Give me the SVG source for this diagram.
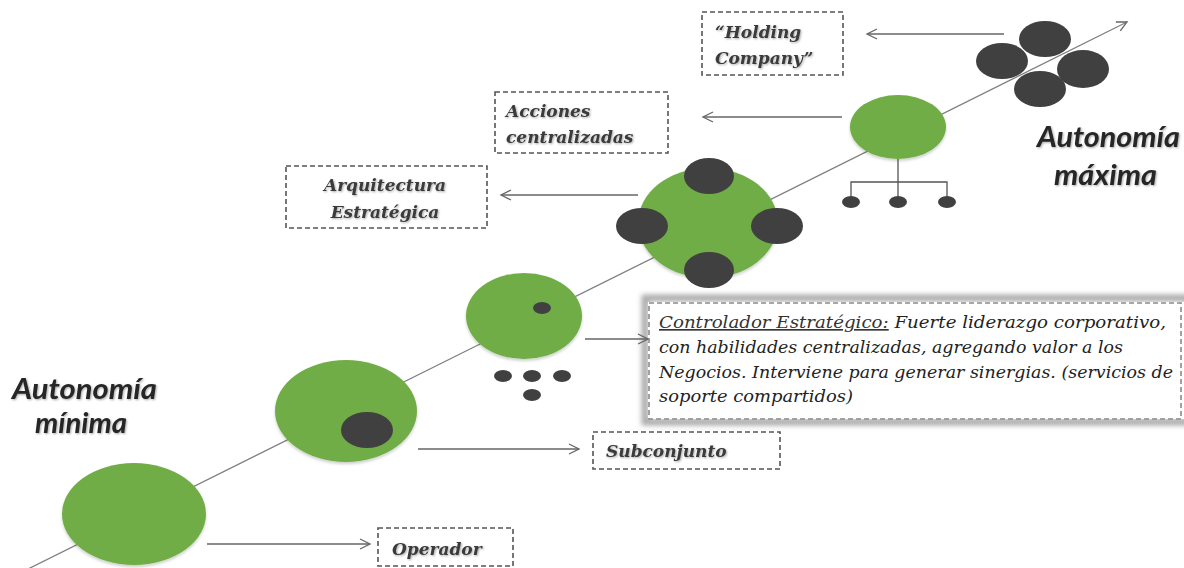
<svg xmlns="http://www.w3.org/2000/svg" width="1184" height="568" viewBox="0 0 1184 568">
  <defs>
    <marker id="open-arrow" markerWidth="14" markerHeight="14" refX="11" refY="6" orient="auto" markerUnits="userSpaceOnUse">
      <path d="M1,1 L11,6 L1,11" fill="none" stroke="#666" stroke-width="1.3"/>
    </marker>
    <filter id="soft-shadow" x="-10%" y="-20%" width="120%" height="140%">
      <feGaussianBlur in="SourceAlpha" stdDeviation="1.2"/>
      <feOffset dx="0.8" dy="0.8" result="b"/>
      <feComponentTransfer><feFuncA type="linear" slope="0.35"/></feComponentTransfer>
      <feMerge><feMergeNode/><feMergeNode in="SourceGraphic"/></feMerge>
    </filter>
    <filter id="glow" x="-5%" y="-20%" width="110%" height="140%">
      <feGaussianBlur stdDeviation="2.5"/>
    </filter>
    <filter id="ellipse-shadow" x="-10%" y="-10%" width="120%" height="130%">
      <feGaussianBlur in="SourceAlpha" stdDeviation="1.5"/>
      <feOffset dx="0" dy="1.5"/>
      <feComponentTransfer><feFuncA type="linear" slope="0.2"/></feComponentTransfer>
      <feMerge><feMergeNode/><feMergeNode in="SourceGraphic"/></feMerge>
    </filter>
  </defs>
  <style>
    .green { fill: #70ad47; }
    .dark { fill: #404040; }
    .axis { stroke: #808080; stroke-width: 1.3; fill: none; }
    .conn { stroke: #666; stroke-width: 1.3; fill: none; }
    .tree { stroke: #555; stroke-width: 1.3; fill: none; }
    .dash { fill: #fff; stroke: #555; stroke-width: 1.6; stroke-dasharray: 5 3; }
    .label { font-family: "DejaVu Serif", "Liberation Serif", serif; font-style: italic; font-weight: bold; font-size: 17px; fill: #3a3a3a; }
    .body { font-family: "DejaVu Serif", "Liberation Serif", serif; font-style: italic; font-size: 16.5px; fill: #222; }
    .autonomy { font-family: Lato, "Liberation Sans", sans-serif; font-style: italic; font-weight: bold; font-size: 28px; fill: #262626; }
  </style>

  <rect width="1184" height="568" fill="#fff"/>

  <!-- Holding company: four separate dark units -->
  <g id="node-holding-shapes">
    <ellipse class="dark" cx="1045" cy="39" rx="26" ry="18"/>
    <ellipse class="dark" cx="1002" cy="61" rx="26" ry="18"/>
    <ellipse class="dark" cx="1083" cy="69" rx="26" ry="19"/>
    <ellipse class="dark" cx="1040" cy="89" rx="26" ry="18"/>
  </g>

  <!-- Autonomy axis -->
  <g id="axis">
    <line class="axis" x1="22" y1="572" x2="1127" y2="22" marker-end="url(#open-arrow)"/>
  </g>

  <!-- Operador -->
  <g id="node-operador">
    <ellipse class="green" cx="134" cy="514" rx="72" ry="51" filter="url(#ellipse-shadow)"/>
    <rect class="dash" x="378" y="528" width="135" height="38"/>
    <text class="label" x="392" y="555" filter="url(#soft-shadow)">Operador</text>
  </g>

  <!-- Subconjunto -->
  <g id="node-subconjunto">
    <ellipse class="green" cx="346" cy="411" rx="71" ry="51" filter="url(#ellipse-shadow)"/>
    <ellipse class="dark" cx="367" cy="430" rx="26" ry="18"/>
    <rect class="dash" x="593" y="432" width="187" height="37"/>
    <text class="label" x="606" y="457" filter="url(#soft-shadow)">Subconjunto</text>
  </g>

  <!-- Controlador estrategico -->
  <g id="node-controlador">
    <ellipse class="green" cx="524" cy="316" rx="58" ry="43" filter="url(#ellipse-shadow)"/>
    <ellipse class="dark" cx="542" cy="308" rx="9" ry="6"/>
    <ellipse class="dark" cx="503" cy="376" rx="9" ry="6"/>
    <ellipse class="dark" cx="532" cy="376" rx="9" ry="6"/>
    <ellipse class="dark" cx="562" cy="376" rx="9" ry="6"/>
    <ellipse class="dark" cx="532" cy="395" rx="9" ry="6"/>
    <rect x="645" y="298" width="545" height="124" fill="none" stroke="#ababab" stroke-width="7" filter="url(#glow)"/>
    <rect x="648" y="302" width="540" height="117" fill="#fff"/>
    <rect x="649" y="303" width="532" height="116" fill="none" stroke="#8a8a8a" stroke-width="1.6" stroke-dasharray="5 3"/>
    <text class="body" x="659" y="328" textLength="507" lengthAdjust="spacingAndGlyphs"><tspan text-decoration="underline" fill="#333">Controlador Estratégico:</tspan> Fuerte liderazgo corporativo,</text>
    <text class="body" x="659" y="353" textLength="464" lengthAdjust="spacingAndGlyphs">con habilidades centralizadas, agregando valor a los</text>
    <text class="body" x="659" y="378" textLength="514" lengthAdjust="spacingAndGlyphs">Negocios. Interviene para generar sinergias. (servicios de</text>
    <text class="body" x="659" y="402" textLength="194" lengthAdjust="spacingAndGlyphs">soporte compartidos)</text>
  </g>

  <!-- Arquitectura estrategica -->
  <g id="node-arquitectura">
    <ellipse class="green" cx="708" cy="223" rx="70" ry="55" filter="url(#ellipse-shadow)"/>
    <ellipse class="dark" cx="709" cy="176" rx="25" ry="18"/>
    <ellipse class="dark" cx="642" cy="226" rx="26" ry="18"/>
    <ellipse class="dark" cx="777" cy="226" rx="26" ry="18"/>
    <ellipse class="dark" cx="709" cy="270" rx="25" ry="18"/>
    <rect class="dash" x="286" y="166" width="201" height="62"/>
    <text class="label" x="385" y="191" text-anchor="middle" filter="url(#soft-shadow)">Arquitectura</text>
    <text class="label" x="385" y="218" text-anchor="middle" filter="url(#soft-shadow)">Estratégica</text>
  </g>

  <!-- Acciones centralizadas -->
  <g id="node-acciones">
    <ellipse class="green" cx="898" cy="127" rx="48" ry="32" filter="url(#ellipse-shadow)"/>
    <path class="tree" d="M898,159 V201 M851,201 V182 H947 V201"/>
    <ellipse class="dark" cx="851" cy="202" rx="9" ry="6"/>
    <ellipse class="dark" cx="898" cy="202" rx="9" ry="6"/>
    <ellipse class="dark" cx="947" cy="202" rx="9" ry="6"/>
    <rect class="dash" x="495" y="92" width="173" height="61"/>
    <text class="label" x="506" y="117" filter="url(#soft-shadow)">Acciones</text>
    <text class="label" x="506" y="143" filter="url(#soft-shadow)">centralizadas</text>
  </g>

  <!-- Holding company label -->
  <g id="node-holding">
    <rect class="dash" x="702" y="12" width="141" height="63"/>
    <text class="label" x="715" y="38" filter="url(#soft-shadow)">“Holding</text>
    <text class="label" x="715" y="64" filter="url(#soft-shadow)">Company”</text>
  </g>

  <!-- Autonomy extremes -->
  <g id="node-autonomia-minima">
    <text class="autonomy" x="12" y="399" textLength="145" lengthAdjust="spacingAndGlyphs" filter="url(#soft-shadow)">Autonomía</text>
    <text class="autonomy" x="35" y="433" textLength="92" lengthAdjust="spacingAndGlyphs" filter="url(#soft-shadow)">mínima</text>
  </g>
  <g id="node-autonomia-maxima">
    <text class="autonomy" x="1037" y="147" textLength="143" lengthAdjust="spacingAndGlyphs" filter="url(#soft-shadow)">Autonomía</text>
    <text class="autonomy" x="1054" y="185" textLength="103" lengthAdjust="spacingAndGlyphs" filter="url(#soft-shadow)">máxima</text>
  </g>

  <!-- Connectors from each stage to its label -->
  <g id="connectors">
    <line class="conn" x1="207" y1="544" x2="370" y2="544" marker-end="url(#open-arrow)"/>
    <line class="conn" x1="418" y1="449" x2="579" y2="449" marker-end="url(#open-arrow)"/>
    <line class="conn" x1="585" y1="339" x2="648" y2="339" marker-end="url(#open-arrow)"/>
    <line class="conn" x1="638" y1="195" x2="501" y2="195" marker-end="url(#open-arrow)"/>
    <line class="conn" x1="842" y1="117" x2="703" y2="117" marker-end="url(#open-arrow)"/>
    <line class="conn" x1="1004" y1="34" x2="867" y2="34" marker-end="url(#open-arrow)"/>
  </g>
</svg>
